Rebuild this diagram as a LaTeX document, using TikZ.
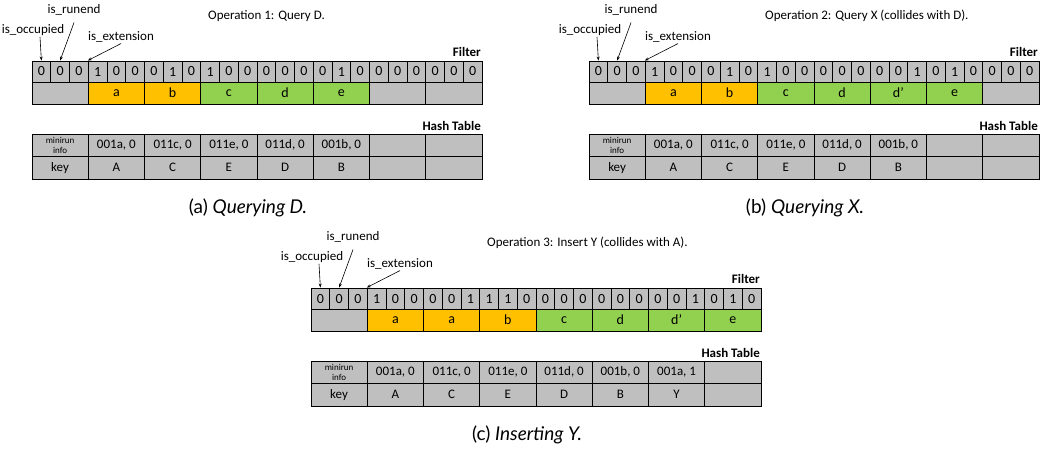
\documentclass[tikz,border=0pt]{standalone}
\usepackage{fontspec}
\newfontfamily\calibri{Carlito}
\newfontfamily\capfont{Lato}
\usetikzlibrary{arrows.meta}

\definecolor{cellgray}{RGB}{191,191,191}
\definecolor{runorange}{RGB}{255,192,0}
\definecolor{rungreen}{RGB}{146,208,80}

\tikzstyle{bitcell} = [draw=black, fill=cellgray, line width=0.9pt, minimum width=18.75pt, minimum height=21pt, inner sep=0pt, font=\calibri\fontsize{14}{14}\selectfont]
\tikzstyle{slotcell} = [draw=black, line width=0.9pt, minimum width=56.25pt, minimum height=22pt, inner sep=0pt, font=\calibri\fontsize{14}{14}\selectfont]
\tikzstyle{tabcell} = [draw=black, fill=cellgray, line width=0.9pt, minimum width=56.25pt, minimum height=22.5pt, inner sep=0pt, font=\calibri\fontsize{13}{13}\selectfont]
\tikzstyle{infocell} = [tabcell, align=center, font=\calibri\fontsize{9}{10}\selectfont]
\tikzstyle{flaglabel} = [inner sep=1pt, font=\calibri\fontsize{13}{13}\selectfont]
\tikzstyle{boldlabel} = [anchor=east, inner sep=1pt, font=\calibri\bfseries\fontsize{13}{13}\selectfont]
\tikzstyle{oplabel} = [anchor=west, inner sep=1pt, font=\calibri\fontsize{13}{13}\selectfont]
\tikzstyle{subcaption} = [font=\capfont\fontsize{19}{22}\selectfont]
\tikzstyle{pointer} = [-{Stealth[length=4pt,width=3pt]}, line width=0.6pt]

\begin{document}
\begin{tikzpicture}[x=1pt, y=-1pt]
\useasboundingbox (0,0) rectangle (1045,456);

% (a) Querying D
\begin{scope}[shift={(32,61)}]
  \foreach \b [count=\i from 0] in {0,0,0,1,0,0,0,1,0,1,0,0,0,0,0,0,1,0,0,0,0,0,0,0}
    \node[bitcell] (a-b\i) at ({\i*18.75+9.375}, 10.5) {\b};
  \foreach \c/\f [count=\i from 0] in {/cellgray, a/runorange, b/runorange, c/rungreen, d/rungreen, e/rungreen, /cellgray, /cellgray}
    \node[slotcell, fill=\f] (a-s\i) at ({\i*56.25+28.125}, 32) {\c};
  \node[infocell] (a-h0) at (28.125, 84.25) {minirun\\info};
  \node[tabcell] (a-k0) at (28.125, 106.75) {key};
  \foreach \m/\k [count=\i] in {001a{,} 0/A, 011c{,} 0/C, 011e{,} 0/E, 011d{,} 0/D, 001b{,} 0/B, /, /} {
    \node[tabcell] (a-h\i) at ({\i*56.25+28.125}, 84.25) {\m};
    \node[tabcell] (a-k\i) at ({\i*56.25+28.125}, 106.75) {\k};
  }
  \node[boldlabel] (a-filter) at (450, -9) {Filter};
  \node[boldlabel] (a-hash) at (450, 65) {Hash Table};
  \node[oplabel] (a-op) at (175, -45) {Operation 1: Query D.};
  \node[flaglabel] (a-run) at (42, -51) {is\_runend};
  \node[flaglabel] (a-occ) at (1, -31) {is\_occupied};
  \node[flaglabel] (a-ext) at (89, -24) {is\_extension};
  \draw[pointer] ([xshift=7pt]a-occ.south) -- (a-b0.north);
  \draw[pointer] ([yshift=-6pt]a-run.south) -- (a-b1.north);
  \draw[pointer] (a-ext.south) -- (a-b3.north west);
  \node[subcaption] (a-cap) at (216, 147) {(a) \textit{Querying D.}};
\end{scope}

% (b) Querying X
\begin{scope}[shift={(589,61)}]
  \foreach \b [count=\i from 0] in {0,0,0,1,0,0,0,1,0,1,0,0,0,0,0,0,0,1,0,1,0,0,0,0}
    \node[bitcell] (b-b\i) at ({\i*18.75+9.375}, 10.5) {\b};
  \foreach \c/\f [count=\i from 0] in {/cellgray, a/runorange, b/runorange, c/rungreen, d/rungreen, d’/rungreen, e/rungreen, /cellgray}
    \node[slotcell, fill=\f] (b-s\i) at ({\i*56.25+28.125}, 32) {\c};
  \node[infocell] (b-h0) at (28.125, 84.25) {minirun\\info};
  \node[tabcell] (b-k0) at (28.125, 106.75) {key};
  \foreach \m/\k [count=\i] in {001a{,} 0/A, 011c{,} 0/C, 011e{,} 0/E, 011d{,} 0/D, 001b{,} 0/B, /, /} {
    \node[tabcell] (b-h\i) at ({\i*56.25+28.125}, 84.25) {\m};
    \node[tabcell] (b-k\i) at ({\i*56.25+28.125}, 106.75) {\k};
  }
  \node[boldlabel] (b-filter) at (450, -9) {Filter};
  \node[boldlabel] (b-hash) at (450, 65) {Hash Table};
  \node[oplabel] (b-op) at (175, -45) {Operation 2: Query X (collides with D).};
  \node[flaglabel] (b-run) at (42, -51) {is\_runend};
  \node[flaglabel] (b-occ) at (1, -31) {is\_occupied};
  \node[flaglabel] (b-ext) at (89, -24) {is\_extension};
  \draw[pointer] ([xshift=7pt]b-occ.south) -- (b-b0.north);
  \draw[pointer] ([yshift=-6pt]b-run.south) -- (b-b1.north);
  \draw[pointer] (b-ext.south) -- (b-b3.north west);
  \node[subcaption] (b-cap) at (216, 147) {(b) \textit{Querying X.}};
\end{scope}

% (c) Inserting Y
\begin{scope}[shift={(311,288)}]
  \foreach \b [count=\i from 0] in {0,0,0,1,0,0,0,0,1,1,1,0,0,0,0,0,0,0,0,0,1,0,1,0}
    \node[bitcell] (c-b\i) at ({\i*18.75+9.375}, 10.5) {\b};
  \foreach \c/\f [count=\i from 0] in {/cellgray, a/runorange, a/runorange, b/runorange, c/rungreen, d/rungreen, d’/rungreen, e/rungreen}
    \node[slotcell, fill=\f] (c-s\i) at ({\i*56.25+28.125}, 32) {\c};
  \node[infocell] (c-h0) at (28.125, 84.25) {minirun\\info};
  \node[tabcell] (c-k0) at (28.125, 106.75) {key};
  \foreach \m/\k [count=\i] in {001a{,} 0/A, 011c{,} 0/C, 011e{,} 0/E, 011d{,} 0/D, 001b{,} 0/B, 001a{,} 1/Y, /} {
    \node[tabcell] (c-h\i) at ({\i*56.25+28.125}, 84.25) {\m};
    \node[tabcell] (c-k\i) at ({\i*56.25+28.125}, 106.75) {\k};
  }
  \node[boldlabel] (c-filter) at (450, -9) {Filter};
  \node[boldlabel] (c-hash) at (450, 65) {Hash Table};
  \node[oplabel] (c-op) at (175, -45) {Operation 3: Insert Y (collides with A).};
  \node[flaglabel] (c-run) at (42, -51) {is\_runend};
  \node[flaglabel] (c-occ) at (1, -31) {is\_occupied};
  \node[flaglabel] (c-ext) at (89, -24) {is\_extension};
  \draw[pointer] ([xshift=7pt]c-occ.south) -- (c-b0.north);
  \draw[pointer] ([yshift=-6pt]c-run.south) -- (c-b1.north);
  \draw[pointer] (c-ext.south) -- (c-b3.north west);
  \node[subcaption] (c-cap) at (216, 147) {(c) \textit{Inserting Y.}};
\end{scope}
\end{tikzpicture}
\end{document}
